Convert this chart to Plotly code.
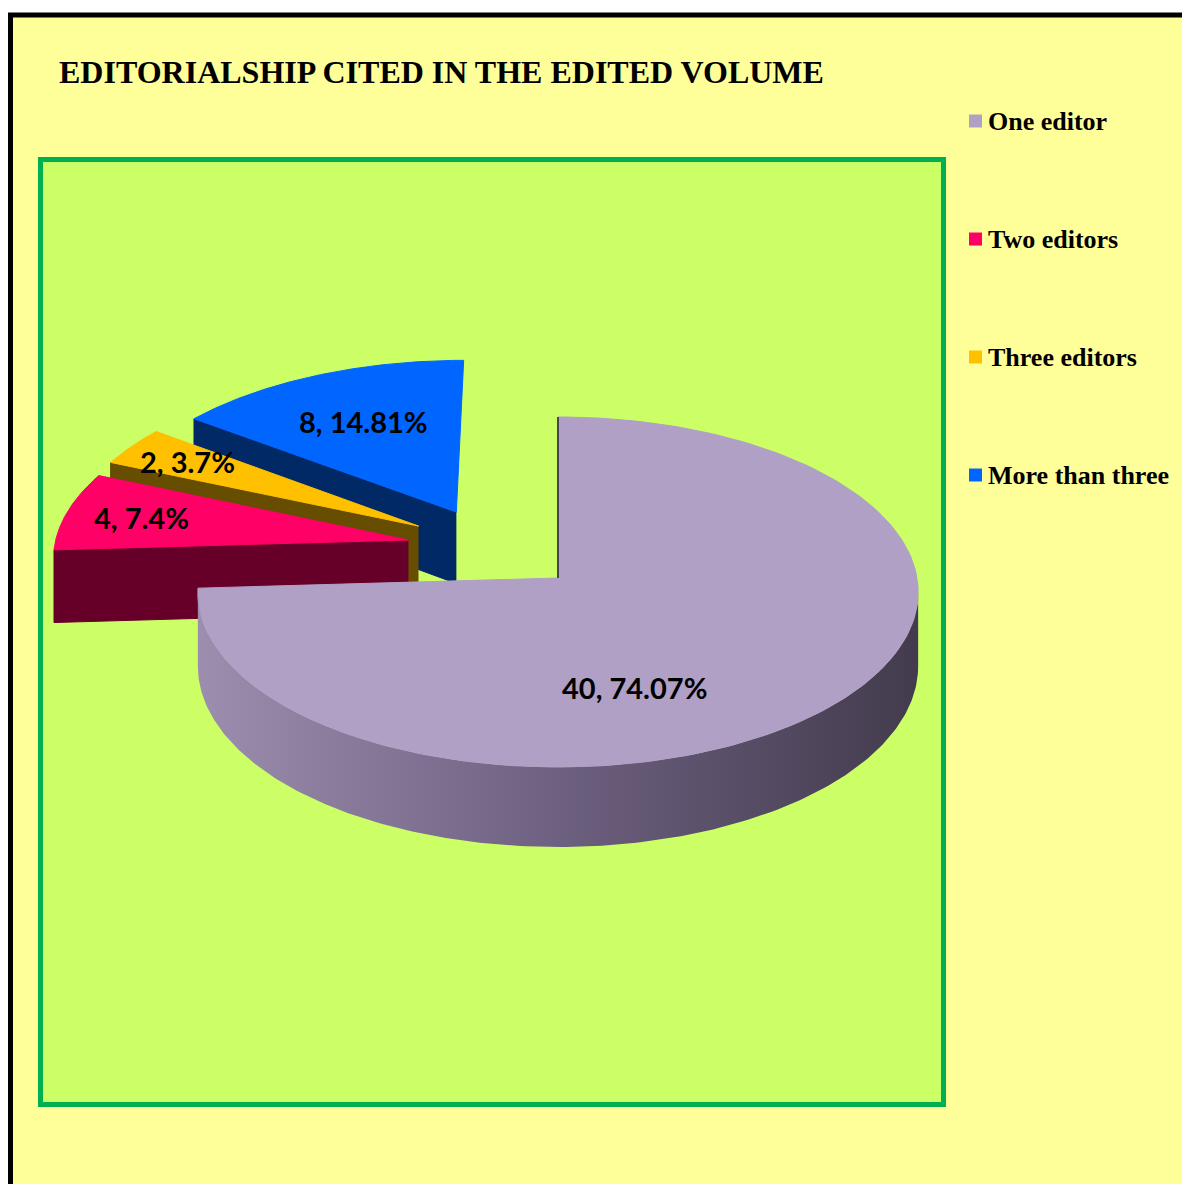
import numpy as np
import plotly.graph_objects as go

# ---- data -------------------------------------------------------------
categories = ["One editor", "Two editors", "Three editors", "More than three"]
counts = [40, 4, 2, 8]
percents = [74.07, 7.4, 3.7, 14.81]

# ---- styling ----------------------------------------------------------
top_colors = ["#B0A0C6", "#FF0066", "#FFC000", "#0066FF"]
side_colors = ["#4B4257", "#660029", "#664D00", "#002966"]
wall_scale = [[0.0, "#9D8DAE"], [0.5, "#6D6080"], [1.0, "#433B4D"]]

# exploded offset of each slice, in pie radii (across, into the page)
explode = [(0.0, 0.0), (-0.424, 0.222), (-0.398, 0.306), (-0.292, 0.391)]
# label placement: distance from slice tip (radii) and turn from bisector (deg)
label_r = [0.63, 0.78, 0.80, 0.65]
label_turn = [28, 0, 0, 0]

W, H = 1182, 1184
CX, CY = 558, 578          # pie centre on the page (px)
SX, SY = 359, 173.9        # horizontal radius / foreshortened depth radius (px)
K = 0.08                   # perspective strength
DEPTH = 73.6 / SY          # thickness of the pie in depth-radius units

LABEL_FONT = dict(family="Lato", size=29, color="black", weight="bold")
SERIF_BOLD = dict(family="Liberation Serif", color="black", weight="bold")


def project(u, v, z=0.0):
    """Map a point on the pie disc (u across, v into the page, z down) to axis units."""
    u = np.asarray(u, dtype=float)
    v = np.asarray(v, dtype=float)
    d = 1.0 + K * v
    return u / d, (v - DEPTH * z) / d


def arc(a0, a1, n=200):
    t = np.radians(np.linspace(a0, a1, n))
    return np.sin(t), np.cos(t)


total = float(sum(counts))
bounds = np.concatenate([[0.0], np.cumsum(counts) / total * 360.0])

sil = np.degrees(np.arcsin(K))          # silhouette of the cylinder side
front_lo, front_hi = 90.0 + sil, 270.0 - sil

fig = go.Figure()
annotations = []

# far slices first so nearer ones overlap them
order = sorted(range(len(counts)), key=lambda i: -explode[i][1])
for i in order:
    a0, a1 = bounds[i], bounds[i + 1]
    ou, ov = explode[i]

    # curved outer side (only the part facing the viewer)
    s0, s1 = max(a0, front_lo), min(a1, front_hi)
    if s1 > s0:
        su, sv = arc(s0, s1)
        xt, yt = project(ou + su, ov + sv, 0)
        xb, yb = project(ou + su, ov + sv, 1)
        fig.add_trace(go.Scatter(
            x=np.concatenate([xt, xb[::-1]]), y=np.concatenate([yt, yb[::-1]]),
            mode="lines", fill="toself", line=dict(width=0),
            fillgradient=dict(type="horizontal", colorscale=wall_scale),
            hoverinfo="skip", showlegend=False))

    # flat cut faces that turn towards the viewer
    for edge, facing in ((a0, np.sin(np.radians(a0)) < -1e-6),
                         (a1, np.sin(np.radians(a1)) > 1e-6)):
        if not facing:
            continue
        eu, ev = np.sin(np.radians(edge)), np.cos(np.radians(edge))
        pu = np.array([ou, ou + eu, ou + eu, ou])
        pv = np.array([ov, ov + ev, ov + ev, ov])
        pz = np.array([0, 0, 1, 1])
        x, y = project(pu, pv, pz)
        fig.add_trace(go.Scatter(
            x=x, y=y, mode="lines", fill="toself",
            fillcolor=side_colors[i], line=dict(color=side_colors[i], width=1),
            hoverinfo="skip", showlegend=False))

    # top face
    tu, tv = arc(a0, a1)
    x, y = project(np.concatenate([[ou], ou + tu, [ou]]),
                   np.concatenate([[ov], ov + tv, [ov]]))
    fig.add_trace(go.Scatter(
        x=x, y=y, mode="lines", fill="toself",
        fillcolor=top_colors[i], line=dict(color=top_colors[i], width=1),
        hoverinfo="skip", showlegend=False))

    # data label
    phi = np.radians((a0 + a1) / 2.0 + label_turn[i])
    lx, ly = project(ou + label_r[i] * np.sin(phi), ov + label_r[i] * np.cos(phi))
    annotations.append(dict(
        x=float(lx), y=float(ly), xref="x", yref="y", showarrow=False,
        text=f"{counts[i]}, {percents[i]:g}%", font=LABEL_FONT))

# edge-on cut at twelve o'clock of the largest slice
eu, ev = np.array([0.0, 0.0]), np.array([0.0, 1.0])
x, y = project(eu + explode[0][0], ev + explode[0][1])
fig.add_trace(go.Scatter(x=x, y=y, mode="lines",
                         line=dict(color=side_colors[0], width=2),
                         hoverinfo="skip", showlegend=False))


def px(xp):
    return xp / W


def py(yp):
    return 1.0 - yp / H


shapes = [
    # chart background and frame
    dict(type="rect", xref="paper", yref="paper", x0=px(10.5), x1=px(W + 5),
         y0=py(H + 5), y1=py(15), fillcolor="#FFFF99",
         line=dict(color="black", width=5), layer="below"),
    # plot area
    dict(type="rect", xref="paper", yref="paper", x0=px(40.5), x1=px(943.5),
         y0=py(1104.5), y1=py(159.5), fillcolor="#CCFF66",
         line=dict(color="#00B050", width=5), layer="below"),
]

# legend: colour key down the right-hand side
for i, cat in enumerate(categories):
    row = 121 + 118 * i
    shapes.append(dict(type="rect", xref="paper", yref="paper",
                       x0=px(969), x1=px(982), y0=py(row + 6.5), y1=py(row - 6.5),
                       fillcolor=top_colors[i], line=dict(width=0)))
    annotations.append(dict(x=px(986), y=py(row), xref="paper", yref="paper",
                            xanchor="left", yanchor="middle", showarrow=False,
                            text=cat, font=dict(SERIF_BOLD, size=26)))

fig.update_layout(
    width=W, height=H, autosize=False,
    margin=dict(l=0, r=0, t=0, b=0),
    paper_bgcolor="white", plot_bgcolor="rgba(0,0,0,0)",
    title=dict(text="EDITORIALSHIP CITED IN THE EDITED VOLUME",
               x=px(59), xanchor="left", y=py(72), yanchor="middle",
               font=dict(SERIF_BOLD, size=32)),
    xaxis=dict(visible=False, range=[-CX / SX, (W - CX) / SX], fixedrange=True),
    yaxis=dict(visible=False, range=[(CY - H) / SY, CY / SY], fixedrange=True),
    shapes=shapes, annotations=annotations, showlegend=False,
)

fig.write_html("out.html")
